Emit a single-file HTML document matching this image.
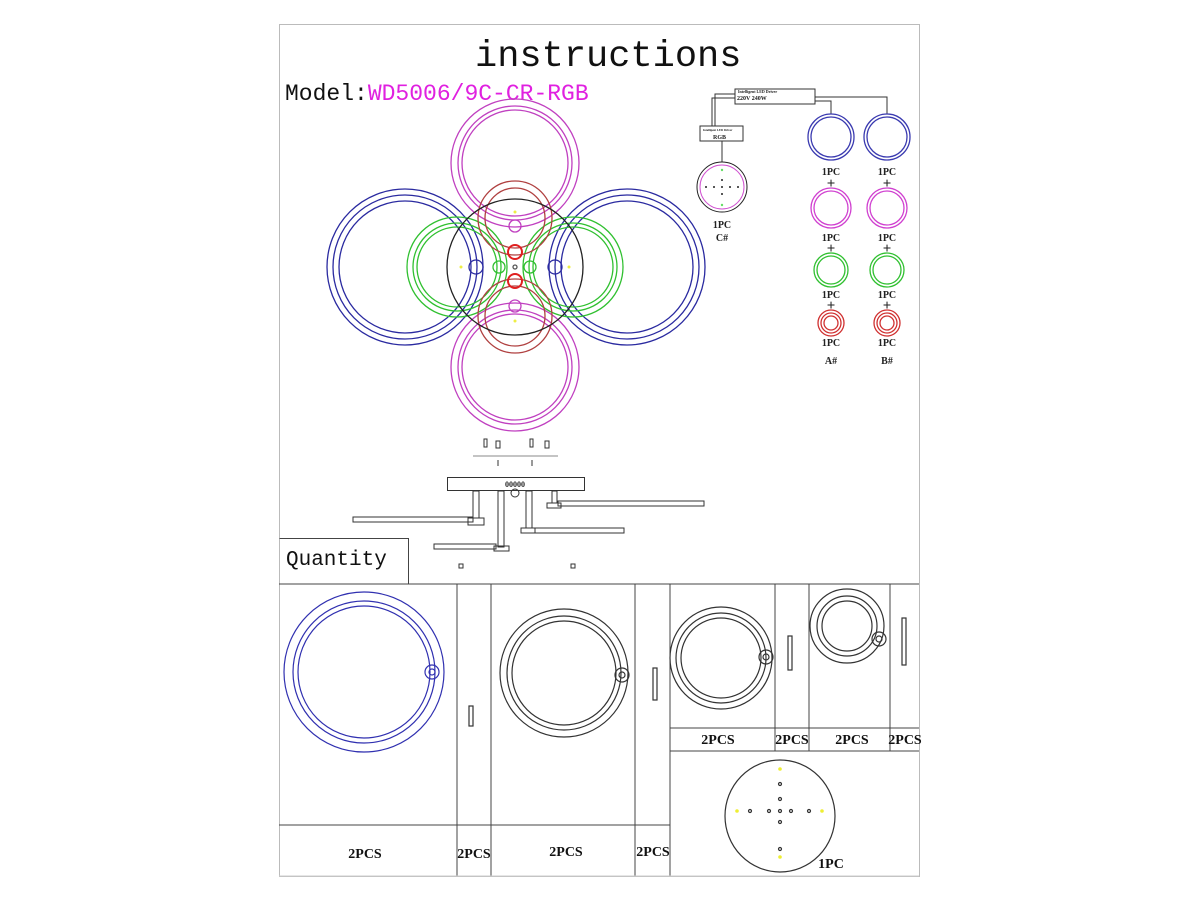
<!DOCTYPE html>
<html><head><meta charset="utf-8"><style>
html,body{margin:0;padding:0;background:#fff;}
svg{display:block;}
text{font-family:"Liberation Mono","Liberation Serif",monospace;}
.b, .b text{font-family:"Liberation Serif",serif;font-weight:bold;}
</style></head><body>
<svg width="1200" height="900" viewBox="0 0 1200 900" xmlns="http://www.w3.org/2000/svg">
<rect x="0" y="0" width="1200" height="900" fill="#fff"/>
<rect x="279.5" y="24.5" width="640" height="852" fill="none" stroke="#bbb" stroke-width="1"/>
<text x="475" y="66" font-size="37" fill="#111">instructions</text>
<text x="285" y="100" font-size="23" fill="#111">Model:<tspan fill="#e020e0">WD5006/9C-CR-RGB</tspan></text>

<!-- main diagram -->
<g fill="none" stroke-width="1.3">
 <g stroke="#c040c0">
  <circle cx="515" cy="163" r="64"/><circle cx="515" cy="163" r="57"/><circle cx="515" cy="163" r="53"/>
  <circle cx="515" cy="367" r="64"/><circle cx="515" cy="367" r="57"/><circle cx="515" cy="367" r="53"/>
  <circle cx="515" cy="226" r="6"/><circle cx="515" cy="306" r="6"/>
 </g>
 <g stroke="#2a2aa0">
  <circle cx="405" cy="267" r="78"/><circle cx="405" cy="267" r="72"/><circle cx="405" cy="267" r="66"/>
  <circle cx="627" cy="267" r="78"/><circle cx="627" cy="267" r="72"/><circle cx="627" cy="267" r="66"/>
  <circle cx="476" cy="267" r="7"/><circle cx="555" cy="267" r="7"/>
 </g>
 <g stroke="#30c030">
  <circle cx="457" cy="267" r="50"/><circle cx="457" cy="267" r="44"/><circle cx="457" cy="267" r="40"/>
  <circle cx="573" cy="267" r="50"/><circle cx="573" cy="267" r="44"/><circle cx="573" cy="267" r="40"/>
  <circle cx="499" cy="267" r="6"/><circle cx="530" cy="267" r="6"/>
 </g>
 <g stroke="#b04040">
  <circle cx="515" cy="218" r="37"/><circle cx="515" cy="218" r="30"/>
  <circle cx="515" cy="316" r="37"/><circle cx="515" cy="316" r="30"/>
 </g>
 <g stroke="#e02020" stroke-width="2"><circle cx="515" cy="252" r="7"/><circle cx="515" cy="281" r="7"/></g>
 <circle cx="515" cy="267" r="68" stroke="#222"/>
 <circle cx="515" cy="267" r="2" stroke="#555"/>
</g>
<g fill="#ee4"><circle cx="461" cy="267" r="1.5"/><circle cx="569" cy="267" r="1.5"/><circle cx="515" cy="212" r="1.5"/><circle cx="515" cy="321" r="1.5"/></g>

<!-- wiring -->
<g fill="none" stroke="#333" stroke-width="1">
 <rect x="735" y="89" width="80" height="15"/>
 <rect x="700" y="126" width="43" height="15"/>
 <polyline points="735,94 715,94 715,126"/><polyline points="735,98 712,98 712,126"/>
 <line x1="722" y1="141" x2="722" y2="162"/>
 <polyline points="815,97 887,97 887,114"/>
 <polyline points="815,101 831,101 831,114"/>
 <circle cx="722" cy="187" r="25" stroke="#222"/>
</g>
<circle cx="722" cy="187" r="22" fill="none" stroke="#d050d0"/>
<g fill="#222"><circle cx="706" cy="187" r="1"/><circle cx="714" cy="187" r="1"/><circle cx="722" cy="187" r="1"/><circle cx="730" cy="187" r="1"/><circle cx="738" cy="187" r="1"/><circle cx="722" cy="180" r="1"/><circle cx="722" cy="194" r="1"/></g>
<g fill="#6d6"><circle cx="722" cy="170" r="1.2"/><circle cx="722" cy="205" r="1.2"/></g>
<text x="737" y="100" font-size="6" class="b" fill="#222">220V  240W</text>
<text x="738" y="93" font-size="4" class="b" fill="#222">Intelligent LED Driver</text>
<text x="713" y="139" font-size="6" class="b" fill="#222">RGB</text>
<text x="703" y="131" font-size="3" class="b" fill="#222">Intelligent LED Driver</text>
<text x="722" y="228" font-size="10" class="b" fill="#222" text-anchor="middle">1PC</text>
<text x="722" y="241" font-size="10" class="b" fill="#222" text-anchor="middle">C#</text>
<g fill="none" stroke-width="1.3">
 <g stroke="#3a3ab0"><circle cx="831" cy="137" r="23"/><circle cx="831" cy="137" r="20"/><circle cx="887" cy="137" r="23"/><circle cx="887" cy="137" r="20"/></g>
 <g stroke="#d040d0"><circle cx="831" cy="208" r="20"/><circle cx="831" cy="208" r="17"/><circle cx="887" cy="208" r="20"/><circle cx="887" cy="208" r="17"/></g>
 <g stroke="#30c030"><circle cx="831" cy="270" r="17"/><circle cx="831" cy="270" r="14"/><circle cx="887" cy="270" r="17"/><circle cx="887" cy="270" r="14"/></g>
 <g stroke="#d03030"><circle cx="831" cy="323" r="13"/><circle cx="831" cy="323" r="10"/><circle cx="831" cy="323" r="7"/><circle cx="887" cy="323" r="13"/><circle cx="887" cy="323" r="10"/><circle cx="887" cy="323" r="7"/></g>
</g>
<g class="b" font-size="10" fill="#222" text-anchor="middle">
 <text x="831" y="175">1PC</text><text x="887" y="175">1PC</text>
 <text x="831" y="188" font-size="15">+</text><text x="887" y="188" font-size="15">+</text>
 <text x="831" y="241">1PC</text><text x="887" y="241">1PC</text>
 <text x="831" y="253" font-size="15">+</text><text x="887" y="253" font-size="15">+</text>
 <text x="831" y="298">1PC</text><text x="887" y="298">1PC</text>
 <text x="831" y="310" font-size="15">+</text><text x="887" y="310" font-size="15">+</text>
 <text x="831" y="346">1PC</text><text x="887" y="346">1PC</text>
 <text x="831" y="364">A#</text><text x="887" y="364">B#</text>
</g>

<!-- exploded view -->
<g fill="none" stroke="#333" stroke-width="1">
 <line x1="473" y1="456" x2="558" y2="456" stroke="#888"/>
 <rect x="484" y="439" width="3" height="8"/><rect x="530" y="439" width="3" height="8"/>
 <rect x="496" y="441" width="4" height="7"/><rect x="545" y="441" width="4" height="7"/>
 <line x1="498" y1="460" x2="498" y2="466"/><line x1="532" y1="460" x2="532" y2="466"/>
 <rect x="447.5" y="477.5" width="137" height="13"/>
 <circle cx="515" cy="493" r="4"/>
 <rect x="473" y="491" width="6" height="27"/><rect x="468" y="518" width="16" height="7"/>
 <rect x="353" y="517" width="120" height="5"/>
 <rect x="552" y="491" width="5" height="12"/><rect x="547" y="503" width="14" height="5"/>
 <rect x="558" y="501" width="146" height="5"/>
 <rect x="498" y="491" width="6" height="56"/><rect x="494" y="546" width="15" height="5"/>
 <rect x="434" y="544" width="62" height="5"/>
 <rect x="526" y="491" width="6" height="37"/><rect x="521" y="528" width="14" height="5"/>
 <rect x="535" y="528" width="89" height="5"/>
 <rect x="459" y="564" width="4" height="4"/><rect x="571" y="564" width="4" height="4"/>
</g>
<text x="505" y="487" font-size="8" class="b" fill="#222">00000</text>

<!-- quantity -->
<g fill="none" stroke="#444" stroke-width="1">
 <polyline points="279.5,538.5 408.5,538.5 408.5,583.5"/>
 <line x1="279" y1="584" x2="919" y2="584"/>
 <line x1="457" y1="584" x2="457" y2="876"/><line x1="491" y1="584" x2="491" y2="876"/>
 <line x1="635" y1="584" x2="635" y2="876"/><line x1="670" y1="584" x2="670" y2="876"/>
 <line x1="775" y1="584" x2="775" y2="751"/><line x1="809" y1="584" x2="809" y2="751"/><line x1="890" y1="584" x2="890" y2="751"/>
 <line x1="670" y1="728" x2="919" y2="728"/><line x1="670" y1="751" x2="919" y2="751"/>
 <line x1="279" y1="825" x2="670" y2="825"/>
 <line x1="279" y1="876" x2="919" y2="876" stroke="#ccc"/>
</g>
<text x="286" y="565" font-size="21" fill="#111">Quantity</text>
<g fill="none" stroke-width="1.2">
 <g stroke="#3030b0"><circle cx="364" cy="672" r="80"/><circle cx="364" cy="672" r="71"/><circle cx="364" cy="672" r="66"/><circle cx="432" cy="672" r="7"/><circle cx="432" cy="672" r="3"/></g>
 <g stroke="#333">
  <rect x="469" y="706" width="4" height="20"/>
  <circle cx="564" cy="673" r="64"/><circle cx="564" cy="673" r="57"/><circle cx="564" cy="673" r="52"/><circle cx="622" cy="675" r="7"/><circle cx="622" cy="675" r="3"/>
  <rect x="653" y="668" width="4" height="32"/>
  <circle cx="721" cy="658" r="51"/><circle cx="721" cy="658" r="45"/><circle cx="721" cy="658" r="40"/><circle cx="766" cy="657" r="7"/><circle cx="766" cy="657" r="3"/>
  <rect x="788" y="636" width="4" height="34"/>
  <circle cx="847" cy="626" r="37"/><circle cx="847" cy="626" r="30"/><circle cx="847" cy="626" r="25"/><circle cx="879" cy="639" r="7"/><circle cx="879" cy="639" r="3"/>
  <rect x="902" y="618" width="4" height="47"/>
  <ellipse cx="780" cy="816" rx="55" ry="56"/>
  <circle cx="780" cy="784" r="1.5"/><circle cx="780" cy="799" r="1.5"/><circle cx="780" cy="811" r="1.5"/><circle cx="780" cy="822" r="1.5"/><circle cx="780" cy="849" r="1.5"/>
  <circle cx="750" cy="811" r="1.5"/><circle cx="769" cy="811" r="1.5"/><circle cx="791" cy="811" r="1.5"/><circle cx="809" cy="811" r="1.5"/>
 </g>
</g>
<g fill="#ee3"><circle cx="780" cy="769" r="1.8"/><circle cx="780" cy="857" r="1.8"/><circle cx="737" cy="811" r="1.8"/><circle cx="822" cy="811" r="1.8"/></g>
<g class="b" font-size="14" fill="#111" text-anchor="middle">
 <text x="365" y="858">2PCS</text><text x="474" y="858">2PCS</text><text x="566" y="856">2PCS</text><text x="653" y="856">2PCS</text>
 <text x="718" y="744">2PCS</text><text x="792" y="744">2PCS</text><text x="852" y="744">2PCS</text><text x="905" y="744">2PCS</text>
 <text x="831" y="868">1PC</text>
</g>
</svg>
</body></html>
